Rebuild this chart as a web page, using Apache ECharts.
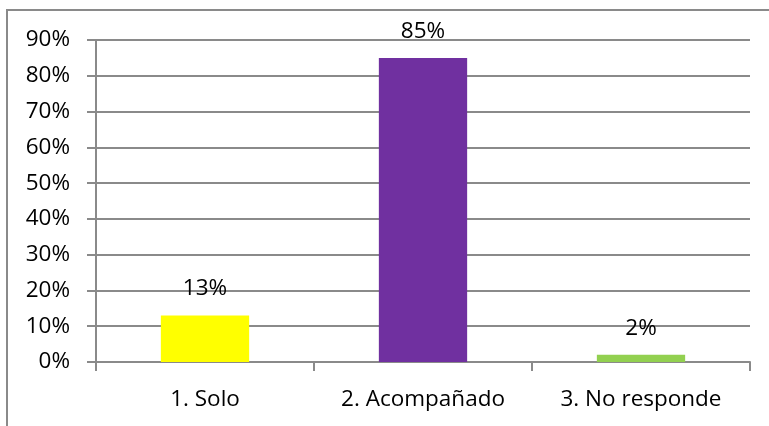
<!DOCTYPE html>
<html>
<head>
<meta charset="utf-8">
<script src="https://cdn.jsdelivr.net/npm/echarts@6/dist/echarts.min.js"></script>
<style>
html,body{margin:0;padding:0;background:#fff;}
#c{width:769px;height:426px;}
</style>
</head>
<body>
<div id="c"></div>
<script>
var categories = ['1. Solo', '2. Acompañado', '3. No responde'];
var values = [13, 85, 2];
var barColors = ['#FFFF00', '#7030A0', '#92D050'];
var yTicks = [0, 10, 20, 30, 40, 50, 60, 70, 80, 90];

var chart = echarts.init(document.getElementById('c'), null, {renderer: 'canvas'});
var FONT = '"Open Sans", "Noto Sans", sans-serif';
chart.setOption({
  animation: false,
  backgroundColor: '#fff',
  graphic: [{
    type: 'rect',
    shape: {x: 7, y: 10, width: 900, height: 600},
    style: {fill: 'none', stroke: '#8a8a8a', lineWidth: 2},
    silent: true
  }],
  grid: {left: 96, right: 19, top: 40, bottom: 64, containLabel: false},
  xAxis: {
    type: 'category',
    data: categories,
    boundaryGap: true,
    axisLine: {show: true, lineStyle: {color: '#8a8a8a', width: 2}},
    axisTick: {show: true, length: 9, alignWithLabel: false, lineStyle: {color: '#8a8a8a', width: 2}},
    axisLabel: {color: '#000', fontFamily: FONT, fontSize: 22.5, margin: 26}
  },
  yAxis: {
    type: 'value',
    min: yTicks[0],
    max: yTicks[yTicks.length - 1],
    interval: 10,
    axisLine: {show: true, lineStyle: {color: '#8a8a8a', width: 2}},
    axisTick: {show: true, length: 9, lineStyle: {color: '#8a8a8a', width: 2}},
    splitLine: {show: true, lineStyle: {color: '#8a8a8a', width: 2}},
    axisLabel: {color: '#000', fontFamily: FONT, fontSize: 22.5, margin: 26,
      formatter: function (v) { return v + '%'; }}
  },
  series: [{
    type: 'bar',
    data: values.map(function (v, i) { return {value: v, itemStyle: {color: barColors[i]}}; }),
    barWidth: '40.5%',
    label: {
      show: true, position: 'top', distance: 15,
      color: '#000', fontFamily: FONT, fontSize: 22.5,
      formatter: function (p) { return p.value + '%'; }
    }
  }]
});
</script>
</body>
</html>
